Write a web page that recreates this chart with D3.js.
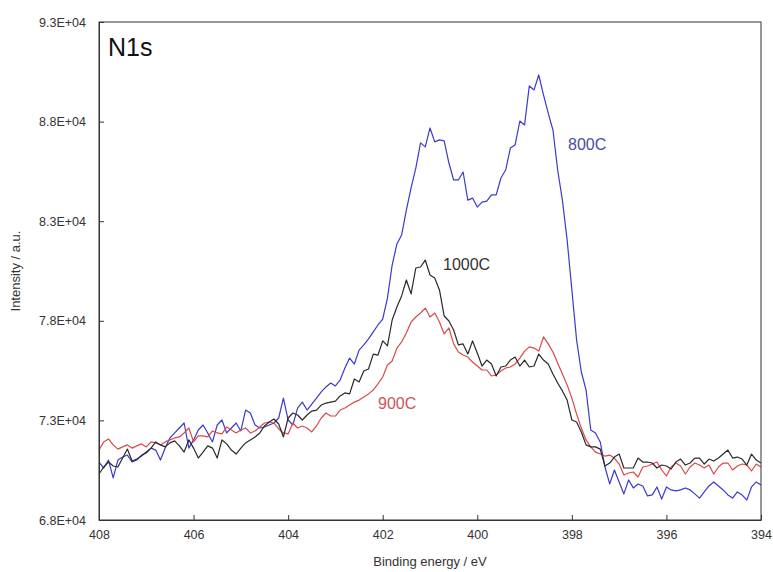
<!DOCTYPE html>
<html>
<head>
<meta charset="utf-8">
<script src="https://cdn.jsdelivr.net/npm/d3@7"></script>
<style>
  body { margin: 0; background: #fff; }
  svg text { font-family: "Liberation Sans", Arial, sans-serif; }
</style>
</head>
<body>
<svg id="chart" width="773" height="572"></svg>
<script>
// binding energy grid, 408 -> 394 eV in 0.1 eV steps
const energies = d3.range(141).map(i => +(408 - i * 0.1).toFixed(1));

const xTicks = [408, 406, 404, 402, 400, 398, 396, 394];
const yTicks = [68000, 73000, 78000, 83000, 88000, 93000];

// 800C (blue)
const s800 = [
  70910, 70610, 71010, 70110, 71010, 71160, 71260, 70910, 71010, 71260,
  71360, 71610, 71510, 71010, 71610, 72120, 72370, 72620, 72870, 71610,
  72020, 72520, 72770, 72370, 71920, 72770, 73020, 72370, 72620, 72870,
  72470, 73520, 73370, 72770, 72620, 72670, 72770, 72870, 73120, 74120,
  73020, 72770, 73620, 73920, 73520, 73820, 74120, 74430, 74680, 74880,
  74730, 75030, 75630, 76130, 75830, 76530, 76790, 77090, 77440, 77790,
  78090, 79140, 80800, 81860, 82310, 83560, 84670, 85670, 86930, 86730,
  87680, 86980, 87080, 87030, 85920, 85070, 85070, 85470, 84060, 84160,
  83710, 83960, 84010, 84320, 84320, 85170, 85570, 86670, 86830, 88030,
  87830, 89790, 89590, 90340, 89340, 88430, 87580, 85570, 84060, 82060,
  79550, 77040, 75430, 74530, 72520, 72370, 71920, 70660, 69810, 70510,
  69910, 69310, 70010, 69610, 69810, 69710, 69210, 69260, 69660, 69050,
  69660, 69510, 69460, 69510, 69610, 69510, 69310, 69100, 69410, 69710,
  69910, 69710, 69510, 69260, 69100, 69410, 69260, 69000, 69660, 69910,
  69760
];

// 900C (red)
const s900 = [
  71510, 71920, 72070, 71770, 71560, 71670, 71770, 71610, 71720, 71820,
  71670, 71920, 71870, 71770, 71920, 72020, 72120, 72170, 72370, 72620,
  71920, 72220, 72220, 72170, 72470, 72370, 72320, 72670, 72520, 72370,
  72520, 72620, 72370, 72470, 72670, 72870, 72920, 72870, 72570, 72370,
  72320, 72870, 72620, 72720, 72620, 72420, 72720, 73120, 73370, 73220,
  73220, 73520, 73620, 73770, 73920, 74020, 74180, 74330, 74530, 74830,
  75180, 75780, 75980, 76630, 76940, 77390, 77940, 78190, 78390, 78640,
  78190, 78390, 77940, 77340, 77640, 76840, 76430, 76280, 76180, 75930,
  75730, 75530, 75530, 75230, 75280, 75480, 75630, 75680, 75830, 76130,
  76480, 76690, 76630, 76480, 77190, 76840, 76430, 75880, 75330, 74780,
  74120, 73320, 72620, 72020, 71670, 71410, 71310, 71210, 71260, 71110,
  70810, 70260, 70360, 70410, 70160, 70660, 70710, 70810, 70910, 70510,
  70210, 70660, 70860, 70710, 70310, 70660, 70860, 70760, 70610, 70760,
  70310, 70660, 70860, 70860, 70510, 70710, 70810, 70760, 70460, 70810,
  70660
];

// 1000C (black)
const s1000 = [
  70310, 70660, 70910, 70710, 70660, 71110, 71560, 70960, 71060, 71210,
  71410, 71610, 71920, 71770, 71670, 71870, 71970, 71720, 71410, 72020,
  71610, 71110, 71410, 71720, 71610, 71110, 72020, 71820, 71510, 71310,
  71610, 71870, 72020, 72170, 72370, 72720, 72920, 73070, 72820, 72170,
  73120, 73370, 73270, 73020, 73270, 73470, 73520, 73770, 73870, 73920,
  73970, 74230, 74380, 74330, 75080, 74930, 75480, 75580, 76330, 76280,
  76990, 76740, 78040, 78690, 79250, 80050, 79350, 80650, 80700, 81050,
  80300, 80150, 79550, 78240, 77990, 77540, 76790, 76840, 76330, 76990,
  76380, 75730, 76030, 75830, 75230, 75680, 75730, 76030, 76180, 75730,
  76030, 75680, 75730, 76330, 76030, 75830, 75330, 74880, 74480, 74020,
  73020, 72920, 72420, 71770, 71670, 71670, 71560, 70710, 70860, 71160,
  71310, 70610, 70610, 70610, 71110, 70910, 70910, 70860, 70610, 70760,
  70710, 70560, 70910, 71060, 70760, 70860, 71110, 71110, 70810, 71060,
  70960, 71110, 71310, 71510, 71110, 71160, 71060, 70760, 71310, 71010,
  70860
];

const series = [
  { name: "800C", values: s800, color: "#3a3acc", labelColor: "#4a4aa8", lx: 568, ly: 150 },
  { name: "900C", values: s900, color: "#d94a4a", labelColor: "#cc5555", lx: 378, ly: 409 },
  { name: "1000C", values: s1000, color: "#2a2a2a", labelColor: "#333", lx: 443, ly: 270 }
];

const margin = { left: 99, top: 22, right: 12, bottom: 52 };
const svg = d3.select("#chart");
const W = +svg.attr("width"), H = +svg.attr("height");
const iw = W - margin.left - margin.right;
const ih = H - margin.top - margin.bottom;

const x = d3.scaleLinear().domain([408, 394]).range([0, iw]);
const y = d3.scaleLinear().domain([68000, 93000]).range([ih, 0]);

const g = svg.append("g").attr("transform", `translate(${margin.left},${margin.top})`);

const line = d3.line()
  .x((d, i) => x(energies[i]))
  .y(d => y(d));

series.forEach(s => {
  g.append("path")
    .datum(s.values)
    .attr("fill", "none")
    .attr("stroke", s.color)
    .attr("stroke-width", 1.2)
    .attr("stroke-linejoin", "round")
    .attr("d", line);
});

// frame
g.append("rect")
  .attr("width", iw)
  .attr("height", ih)
  .attr("fill", "none")
  .attr("stroke", "#333")
  .attr("stroke-width", 1);

const xAxis = g.append("g")
  .attr("transform", `translate(0,${ih})`)
  .call(d3.axisBottom(x).tickValues(xTicks).tickSizeInner(-5).tickSizeOuter(0).tickPadding(10).tickFormat(d3.format("d")));

const yAxis = g.append("g")
  .call(d3.axisLeft(y).tickValues(yTicks).tickSizeInner(-5).tickSizeOuter(0).tickPadding(13)
    .tickFormat(d => (d / 1e4).toFixed(1) + "E+04"));

[xAxis, yAxis].forEach(a => {
  a.select(".domain").attr("stroke", "#333");
  a.selectAll(".tick line").attr("stroke", "#333");
  a.selectAll(".tick text").attr("fill", "#333").style("font-size", "12.5px");
});

// series labels
series.forEach(s => {
  svg.append("text")
    .attr("x", s.lx)
    .attr("y", s.ly)
    .attr("fill", s.labelColor)
    .style("font-size", "16px")
    .text(s.name);
});

svg.append("text")
  .attr("x", 108)
  .attr("y", 56)
  .attr("fill", "#111")
  .style("font-size", "25px")
  .text("N1s");

svg.append("text")
  .attr("x", margin.left + iw / 2)
  .attr("y", 566)
  .attr("text-anchor", "middle")
  .attr("fill", "#333")
  .style("font-size", "13px")
  .text("Binding energy / eV");

svg.append("text")
  .attr("transform", `translate(20,${margin.top + ih / 2}) rotate(-90)`)
  .attr("text-anchor", "middle")
  .attr("fill", "#333")
  .style("font-size", "13px")
  .text("Intensity / a.u.");
</script>
</body>
</html>
